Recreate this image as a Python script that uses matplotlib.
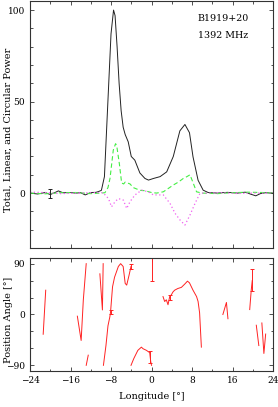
import matplotlib
matplotlib.use("Agg")
import matplotlib.pyplot as plt
from matplotlib.ticker import MultipleLocator

plt.rcParams['font.family'] = ['DejaVu Serif']
plt.rcParams['font.size'] = 6.5

# ---- Data ----
lon_total = [-24, -22.5, -21, -20, -19, -18.4, -17.5, -16, -15, -14, -13.1, -12, -11, -10.5,
             -9.9, -9.3, -8.6, -8.0, -7.5, -7.2, -6.8, -6.4, -6.0, -5.6, -5.2, -4.6, -4.0,
             -3.3, -2.3, -1.3, -0.6, 0.4, 1.7, 3.0, 4.3, 5.6, 6.6, 7.5, 8.2, 9.2, 10.2, 11.2,
             13, 15, 17, 18.5, 19.5, 20.6, 21.5, 22.5, 24]
total = [0, -0.5, 0.3, -0.8, 0.4, 1.2, 0.2, 0.3, 0, 0.2, -1.0, 0.3, 0.4, 0.8,
         1.5, 9, 51, 87, 100, 97, 80, 60, 45, 36, 32, 28, 20,
         18, 11, 8, 7.1, 8, 9, 11.6, 20, 34, 37.5, 33, 19.8, 7, 1.6, 0.3,
         0, 0.4, 0, 0.5, -0.5, -1.5, -0.3, 0.2, 0]

lon_linear = [-24, -21, -18, -15, -12, -10, -9.2, -8.6, -8.2, -7.55, -7.1, -6.88, -6.35, -5.9,
              -5.5, -5.2, -4.25, -3.6, -2.27, -1.3, 0.0, 1.0, 2.33, 3.3, 4.3, 5.3, 6.28, 7.0,
              7.6, 8.26, 8.9, 10, 13, 16, 19, 22, 24]
linear = [0, -0.4, 0.2, 0.3, -0.3, 0, 0.2, 3, 8, 23.5, 27, 26, 16, 5.5,
          5, 6, 5, 3, 1.5, 1.3, 0.3, 0, 0.7, 2.5, 4.4, 6, 8, 9,
          10, 5.3, 0.7, 0, -0.3, 0.2, 0.5, 0.3, 0]

lon_circ = [-24, -21, -18, -15, -12, -10, -9.5, -8.5, -7.9, -7.2, -6.55, -5.57, -4.9, -4.25,
            -3.26, -1.95, -0.63, 0.36, 2.33, 3.65, 4.64, 5.63, 6.6, 7.6, 8.6, 9.6, 11, 14,
            17, 20, 24]
circ = [0.5, 0.3, -0.3, 0, 0.2, 0.3, 0, -3, -7.5, -4.7, -3, -3.8, -8.4, -4.7,
        -1, 1.6, 0.7, -1, -1, -5.6, -11, -14.7, -17.5, -12, -5.6, 0, 0, 0.2,
        -0.2, 0, 0]

pa_lon_segments = [
    [-21.4, -20.9],
    [-14.65, -13.9, -13.47, -12.9],
    [-12.9, -12.5],
    [-10.2, -9.7, -9.55],
    [-9.5, -9.0, -8.6, -8.25, -8.1, -7.7, -7.3, -6.55, -6.1, -5.6, -5.2, -4.9, -4.45, -4.05],
    [-4.05, -3.5, -2.7, -2.0, -1.67, -1.0, -0.36, -0.16, 0.0],
    [2.27, 2.6, 2.93, 3.26, 3.6, 3.9, 4.25, 4.57, 5.2, 5.9, 6.55, 7.1, 7.5, 8.2, 8.9, 9.2, 9.5, 9.85],
    [14.1, 14.8, 15.1],
    [19.4, 19.7, 19.9],
    [20.7, 21.2],
    [21.8, 22.2, 22.55],
]
pa_val_segments = [
    [-35, 43],
    [-3, -46, 26, 90],
    [-90, -72],
    [72, 8, 90],
    [-90, -55, -20, -5, 3.5, 49, 66, 85, 90, 85, 55, 52, 69, 85],
    [-90, -78, -63.5, -57.8, -60.6, -63.5, -67.5, -83, -90],
    [31.7, 23, 26, 17.3, 32, 34.6, 40, 43, 46, 48, 53.7, 59, 56, 43, 31.7, 23, 3, -57.8],
    [0, 21.3, -7.5],
    [8.7, 43, 60],
    [-19, -55],
    [-15, -69, -34.6],
]
pa_err_lon = [-8.1, -4.05, -0.2, 0.05, 3.7, 19.9]
pa_err_val = [4, 85, -75, 80, 30, 61]
pa_err_size = [4, 5, 10, 20, 4, 19]

xticks = [-24, -16, -8, 0, 8, 16, 24]
xticklabels = ['\u221224', '\u221216', '\u22128', '0', '8', '16', '24']

# ---- Figure ----
fig = plt.figure(figsize=(2.78, 4.07), dpi=100)
ax1 = fig.add_axes([0.108, 0.3907, 0.874, 0.607])
ax2 = fig.add_axes([0.108, 0.0885, 0.874, 0.2776])

ax1.plot(lon_total, total, color='#222222', lw=0.7)
ax1.plot(lon_linear, linear, color='#44ee44', lw=0.8, linestyle=(0, (4, 2.5)))
ax1.plot(lon_circ, circ, color='#f060f0', lw=0.9, linestyle=(0, (1, 2)))
ax1.errorbar([-20], [0], yerr=[2.5], color='#222222', lw=0.7, capsize=1.2, capthick=0.7)
ax1.set_xlim(-24, 24)
ax1.set_ylim(-30, 105)
ax1.yaxis.set_major_locator(MultipleLocator(50))
ax1.yaxis.set_minor_locator(MultipleLocator(10))
ax1.xaxis.set_major_locator(MultipleLocator(8))
ax1.xaxis.set_minor_locator(MultipleLocator(4))
ax1.set_xticklabels([])
ax1.set_ylabel('Total, Linear, and Circular Power', fontsize=7)
ax1.yaxis.set_label_coords(-0.072, 0.48)
ax1.text(0.69, 0.93, 'B1919+20', transform=ax1.transAxes, fontsize=6.8, va='center')
ax1.text(0.69, 0.862, '1392 MHz', transform=ax1.transAxes, fontsize=6.8, va='center')

for lo, va in zip(pa_lon_segments, pa_val_segments):
    ax2.plot(lo, va, color='#ff2222', lw=0.7)
ax2.errorbar(pa_err_lon, pa_err_val, yerr=pa_err_size, fmt='none', ecolor='#ff2222',
             elinewidth=0.7, capsize=1.2, capthick=0.7)
ax2.set_xlim(-24, 24)
ax2.set_ylim(-100, 100)
ax2.set_yticks([-90, 0, 90])
ax2.set_yticklabels(['\u221290', '0', '90'])
ax2.yaxis.set_minor_locator(MultipleLocator(30))
ax2.set_xticks(xticks)
ax2.set_xticklabels(xticklabels)
ax2.xaxis.set_minor_locator(MultipleLocator(4))
ax2.set_ylabel('Position Angle [\u00b0]', fontsize=7)
ax2.yaxis.set_label_coords(-0.072, 0.45)
ax2.set_xlabel('Longitude [\u00b0]', fontsize=7, labelpad=5)

for ax in (ax1, ax2):
    ax.tick_params(which='both', direction='in', top=True, right=True,
                   labelsize=6.5, width=0.6, color='#333333')
    ax.tick_params(which='major', length=3)
    ax.tick_params(which='minor', length=1.8)
    for s in ax.spines.values():
        s.set_linewidth(0.8)
        s.set_color('#333333')

fig.savefig('out.png', dpi=100)
